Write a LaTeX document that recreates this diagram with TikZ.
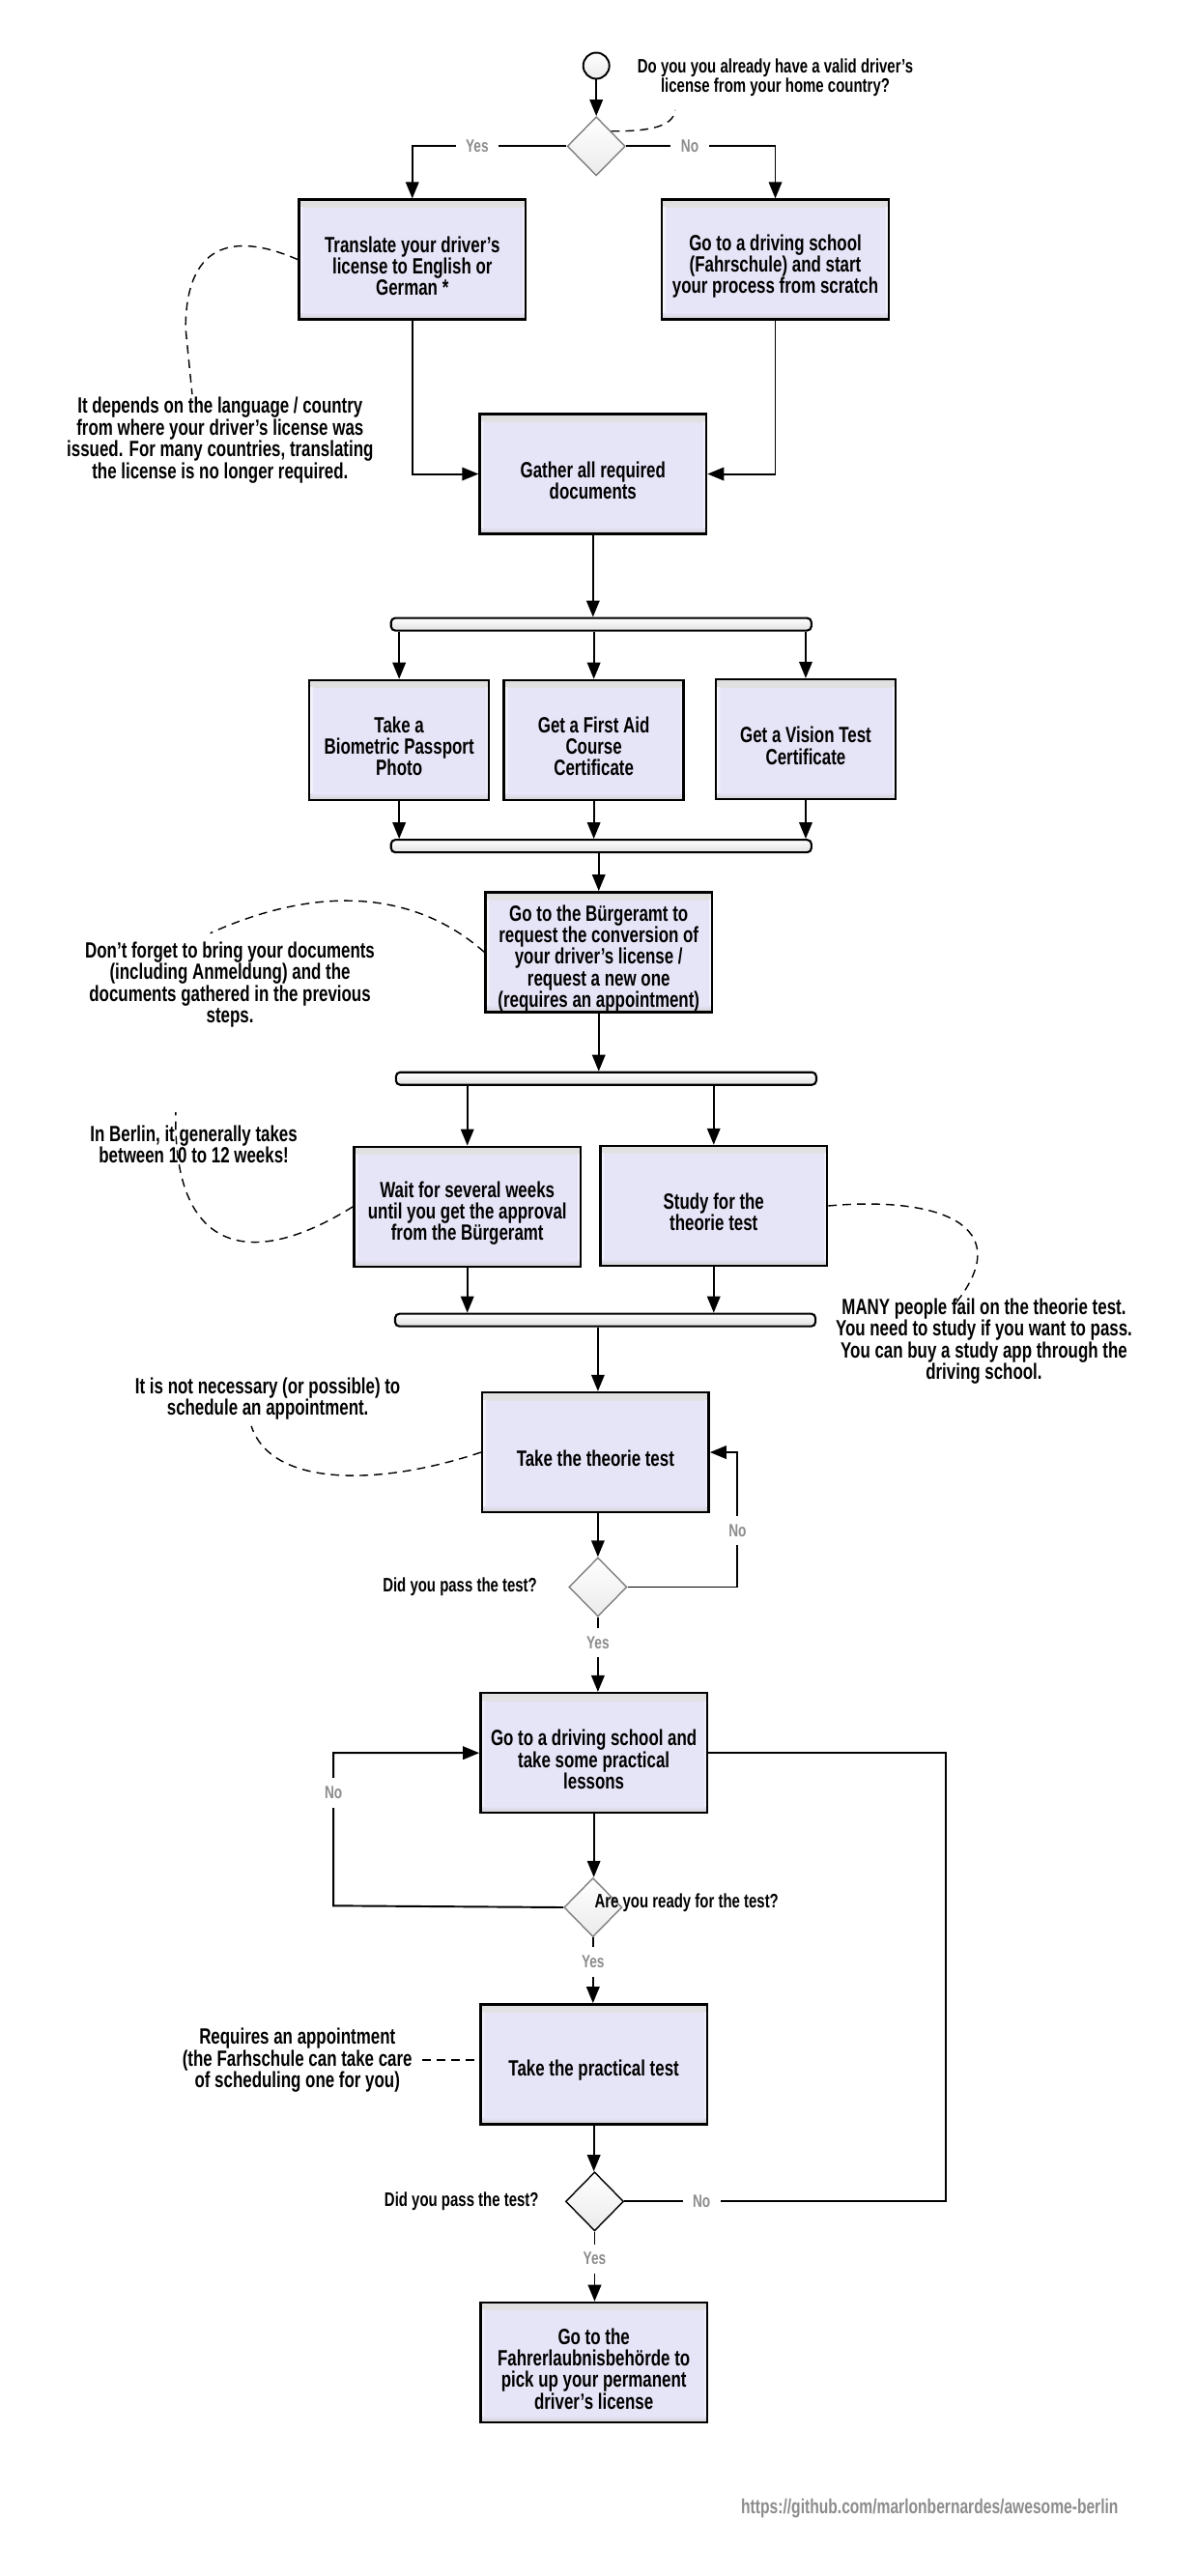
\documentclass[tikz,border=0pt]{standalone}
\usepackage{fontspec}
\setmainfont{Liberation Sans}[FakeStretch=0.74]
\usetikzlibrary{arrows.meta,shapes.geometric}
\definecolor{boxfill}{HTML}{E6E4F7}
\definecolor{labelgray}{HTML}{8C8C8C}
\newcommand{\lift}{\rule{0pt}{17pt}}
\tikzset{
    stepbox/.style={draw, line width=1.4pt, fill=boxfill, align=center, font=\bfseries\fontsize{13}{12.6}\selectfont,
        minimum width=4.69cm, minimum height=2.48cm, inner sep=0pt,
        path picture={
            \shade[top color=black!12, bottom color=boxfill] (path picture bounding box.north west) rectangle ([yshift=-0.16cm]path picture bounding box.north east);
            \shade[top color=boxfill, bottom color=black!18] ([yshift=0.14cm]path picture bounding box.south west) rectangle (path picture bounding box.south east);
            \shade[left color=white, right color=boxfill] ([yshift=-0.16cm]path picture bounding box.north west) rectangle ([xshift=0.09cm, yshift=0.14cm]path picture bounding box.south west);
            \shade[left color=boxfill, right color=white] ([xshift=-0.09cm, yshift=-0.16cm]path picture bounding box.north east) rectangle ([yshift=0.14cm]path picture bounding box.south east);
        }},
    smallbox/.style={stepbox, minimum width=3.72cm},
    forkbar/.style={draw, line width=1.2pt, top color=white, bottom color=black!12, rounded corners=2.5pt, minimum width=8.7cm, minimum height=0.26cm, inner sep=0pt},
    question/.style={diamond, draw=gray, line width=0.8pt, top color=white, bottom color=black!8, minimum width=1.2cm, minimum height=1.22cm, inner sep=0pt},
    notetext/.style={align=center, inner sep=0pt, font=\bfseries\fontsize{13}{12.8}\selectfont},
    asktext/.style={notetext, font=\bfseries\fontsize{11.5}{11.4}\selectfont},
    answer/.style={fill=white, text=labelgray, inner xsep=6pt, inner ysep=5pt, font=\bfseries\fontsize{10.5}{12.6}\selectfont},
    flow/.style={line width=1.1pt, -{Triangle[length=3.4mm,width=2.7mm]}},
    plainflow/.style={line width=1.1pt},
    notelink/.style={line width=0.8pt, dashed, dash pattern=on 5pt off 3.5pt},
}
\begin{document}
\begin{tikzpicture}[x=0.034cm, y=-0.034cm]
    \useasboundingbox (0, 0) rectangle (728.2, 1568);

    % Start and first question
    \node[circle, draw, line width=1.1pt, top color=white, bottom color=black!8, minimum size=0.54cm, inner sep=0pt] (start) at (363, 40) {};
    \node[question] (ask) at (363, 89) {};
    \node[asktext] (asknote) at (472, 47) {Do you you already have a valid driver's\\license from your home country?};
    \coordinate (asktip) at (411, 67);

    % Translate or start over
    \node[stepbox] (translate) at (251, 158) {\lift Translate your driver's\\license to English or\\German *};
    \node[stepbox] (school) at (472, 158) {\lift Go to a driving school\\(Fahrschule) and start\\your process from scratch};
    \node[stepbox] (gather) at (361, 288.5) {\lift Gather all required\\documents};
    \node[notetext] (dependsnote) at (134, 268) {It depends on the language / country\\from where your driver's license was\\issued. For many countries, translating\\the license is no longer required.};
    \coordinate (dependstip) at (117, 240);

    % Documents
    \node[forkbar] (forkdocs) at (366, 380) {};
    \node[smallbox] (photo) at (243, 450.5) {\lift Take a\\Biometric Passport\\Photo};
    \node[smallbox] (firstaid) at (361.5, 450.5) {\lift Get a First Aid\\Course\\Certificate};
    \node[smallbox] (vision) at (490.5, 450) {\lift Get a Vision Test\\Certificate};
    \node[forkbar] (joindocs) at (366, 515) {};

    % Buergeramt
    \node[stepbox] (buergeramt) at (364.5, 579.5) {\lift Go to the Bürgeramt to\\request the conversion of\\your driver's license /\\request a new one\\(requires an appointment)};
    \node[notetext] (forgetnote) at (140, 599.5) {Don't forget to bring your documents\\(including Anmeldung) and the\\documents gathered in the previous\\steps.};
    \coordinate (forgettip) at (128, 568);
    \node[forkbar] (forkwait) at (369, 656.5) {};

    % Waiting and studying
    \node[stepbox] (wait) at (284.5, 734.5) {\lift Wait for several weeks\\until you get the approval\\from the Bürgeramt};
    \node[stepbox] (study) at (434.5, 734) {\lift Study for the\\theorie test};
    \node[notetext] (berlinnote) at (118, 696.5) {In Berlin, it generally takes\\between 10 to 12 weeks!};
    \coordinate (berlintip) at (107, 677);
    \node[notetext] (manynote) at (599, 816.5) {MANY people fail on the theorie test.\\You need to study if you want to pass.\\You can buy a study app through the\\driving school.};
    \coordinate (manytip) at (582, 793);
    \node[forkbar] (joinwait) at (368.5, 803.5) {};

    % Theorie test
    \node[stepbox] (theorie) at (362.5, 884) {\lift Take the theorie test};
    \node[notetext] (walkinnote) at (163, 851.5) {It is not necessary (or possible) to\\schedule an appointment.};
    \coordinate (walkintip) at (153, 868);
    \node[question] (passtheorie) at (364, 966) {};
    \node[asktext] (passtheorietext) at (280, 966) {Did you pass the test?};
    \coordinate (retrytheorie) at (449, 966);

    % Lessons
    \node[stepbox] (lessons) at (361.5, 1067) {\lift Go to a driving school and\\take some practical\\lessons};
    \node[question] (ready) at (361, 1161) {};
    \node[asktext] (readytext) at (418, 1158) {Are you ready for the test?};
    \coordinate (moreleft) at (203, 1160);

    % Practical test
    \node[stepbox] (practical) at (361.5, 1256.5) {\lift Take the practical test};
    \node[notetext] (requiresnote) at (181, 1254) {Requires an appointment\\(the Farhschule can take care\\of scheduling one for you)};
    \node[question, draw=black] (passpractical) at (362, 1340) {};
    \node[asktext] (passpracticaltext) at (281, 1340) {Did you pass the test?};
    \coordinate (backright) at (576, 1067);

    % Pick up
    \node[stepbox] (pickup) at (361.5, 1438) {\lift Go to the\\Fahrerlaubnisbehörde to\\pick up your permanent\\driver's license};
    \node[notetext, text=labelgray, font=\bfseries\fontsize{12}{12.8}\selectfont] (repolink) at (566, 1527) {https://github.com/marlonbernardes/awesome-berlin};

    % Connectors
    \draw[flow] (start) -- (ask);
    \draw[flow] (ask.west) -| node[answer, pos=0.29] (askyes) {Yes} (translate.north);
    \draw[flow] (ask.east) -| node[answer, pos=0.214] (askno) {No} (school.north);
    \draw[flow] (translate.south) |- (gather.west);
    \draw[flow] (school.south) |- (gather.east);
    \draw[flow] (gather.south) -- (gather.south |- forkdocs.north);
    \draw[flow] (forkdocs.south -| photo.north) -- (photo.north);
    \draw[flow] (forkdocs.south -| firstaid.north) -- (firstaid.north);
    \draw[flow] (forkdocs.south -| vision.north) -- (vision.north);
    \draw[flow] (photo.south) -- (photo.south |- joindocs.north);
    \draw[flow] (firstaid.south) -- (firstaid.south |- joindocs.north);
    \draw[flow] (vision.south) -- (vision.south |- joindocs.north);
    \draw[flow] (joindocs.south -| buergeramt.north) -- (buergeramt.north);
    \draw[flow] (buergeramt.south) -- (buergeramt.south |- forkwait.north);
    \draw[flow] (forkwait.south -| wait.north) -- (wait.north);
    \draw[flow] (forkwait.south -| study.north) -- (study.north);
    \draw[flow] (wait.south) -- (wait.south |- joinwait.north);
    \draw[flow] (study.south) -- (study.south |- joinwait.north);
    \draw[flow] (joinwait.south -| passtheorie.north) -- (theorie.north -| passtheorie.north);
    \draw[flow] (theorie.south -| passtheorie.north) -- (passtheorie.north);
    \draw[flow] (passtheorie.south) -- node[answer, pos=0.34] (theorieyes) {Yes} (passtheorie.south |- lessons.north);
    \draw[flow] (passtheorie.east) -- (retrytheorie) |- node[answer, pos=0.21] (theorieno) {No} (theorie.east);
    \draw[flow] (lessons.south) -- (lessons.south |- ready.north);
    \draw[flow] (ready.west) -- (moreleft) |- node[answer, pos=0.37] (readyno) {No} (lessons.west);
    \draw[flow] (ready.south) -- node[answer, pos=0.37] (readyyes) {Yes} (ready.south |- practical.north);
    \draw[flow] (practical.south) -- (practical.south |- passpractical.north);
    \draw[flow] (passpractical.south) -- node[answer, pos=0.39] (practicalyes) {Yes} (passpractical.south |- pickup.north);
    \draw[plainflow] (passpractical.east) -| node[answer, pos=0.12] (practicalno) {No} (backright) -- (lessons.east);

    % Notes
    \draw[notelink] (ask.north east) .. controls (392, 80) and (410, 78) .. (asktip);
    \draw[notelink] (translate.west) .. controls (140, 140) and (113, 150) .. (113, 200) -- (dependstip);
    \draw[notelink] (buergeramt.west) .. controls (250, 540) and (190, 540) .. (forgettip);
    \draw[notelink] (wait.west) .. controls (150, 775) and (105, 760) .. (berlintip);
    \draw[notelink] (study.east) .. controls (570, 728) and (620, 745) .. (manytip);
    \draw[notelink] (theorie.west) .. controls (230, 905) and (165, 905) .. (walkintip);
    \draw[notelink] ([xshift=0.2cm]requiresnote.east) -- (requiresnote.east -| practical.west);
\end{tikzpicture}
\end{document}
